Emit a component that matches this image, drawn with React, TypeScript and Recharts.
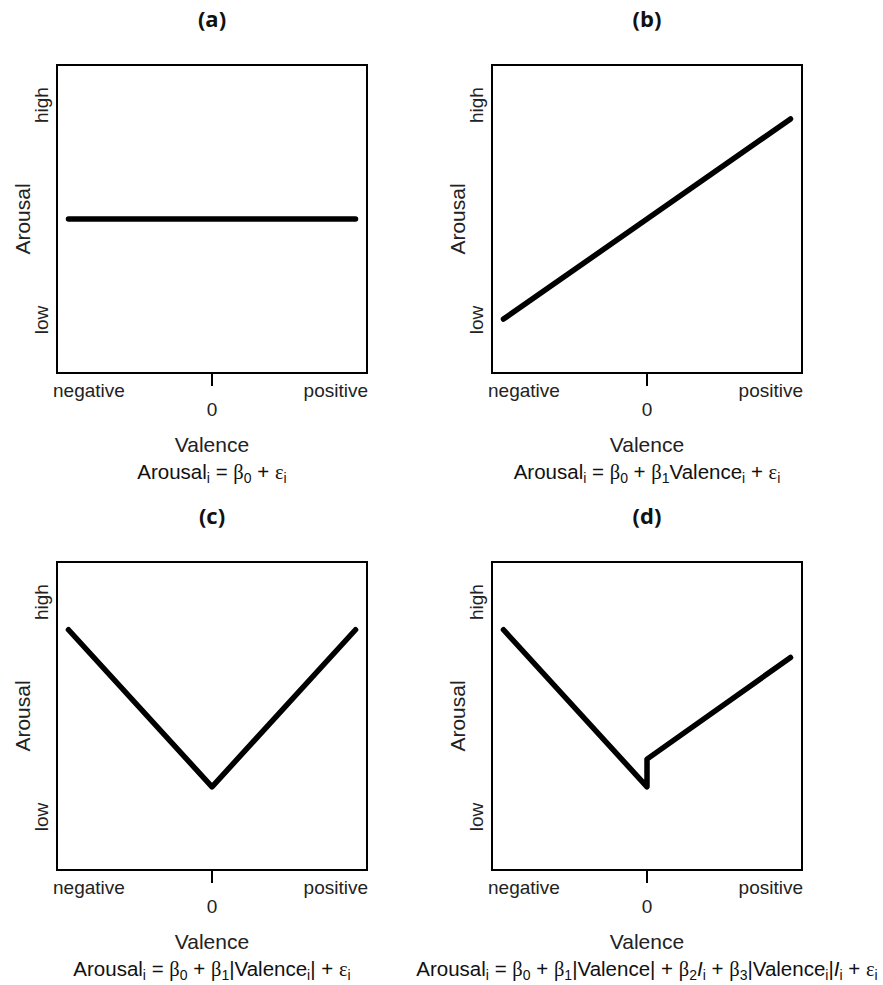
import React from 'react';
import { LineChart, Line, XAxis, YAxis, ReferenceArea, Customized } from 'recharts';

// ---------- data ----------
const X_DOMAIN: [number, number] = [-1.08, 1.08];
const Y_DOMAIN: [number, number] = [0, 100];
const xTickValues = [-1.08, 0, 1.08];
const xTickLabels = ['negative', '0', 'positive'];
const yTickValues = [17.2, 87];
const yTickLabels = ['low', 'high'];

const valence = [-1, 0, 1];
const valenceD = [-1, 0, 0, 1];
const arousalA = [50, 50, 50];
const arousalB = [17.5, 50, 82.5];
const arousalC = [78, 27, 78];
const arousalD = [78, 27, 36, 69];

const panelTitles = ['(a)', '(b)', '(c)', '(d)'];
const xAxisTitle = 'Valence';
const yAxisTitle = 'Arousal';

type Seg = { t: string; sub?: boolean; greek?: boolean; it?: boolean };
const formulaA: Seg[] = [
  { t: 'Arousal' }, { t: 'i', sub: true }, { t: ' = ' }, { t: 'β', greek: true }, { t: '0', sub: true },
  { t: ' + ' }, { t: 'ε', greek: true }, { t: 'i', sub: true },
];
const formulaB: Seg[] = [
  { t: 'Arousal' }, { t: 'i', sub: true }, { t: ' = ' }, { t: 'β', greek: true }, { t: '0', sub: true },
  { t: ' + ' }, { t: 'β', greek: true }, { t: '1', sub: true }, { t: 'Valence' }, { t: 'i', sub: true },
  { t: ' + ' }, { t: 'ε', greek: true }, { t: 'i', sub: true },
];
const formulaC: Seg[] = [
  { t: 'Arousal' }, { t: 'i', sub: true }, { t: ' = ' }, { t: 'β', greek: true }, { t: '0', sub: true },
  { t: ' + ' }, { t: 'β', greek: true }, { t: '1', sub: true }, { t: '|Valence' }, { t: 'i', sub: true },
  { t: '|' }, { t: ' + ' }, { t: 'ε', greek: true }, { t: 'i', sub: true },
];
const formulaD: Seg[] = [
  { t: 'Arousal' }, { t: 'i', sub: true }, { t: ' = ' }, { t: 'β', greek: true }, { t: '0', sub: true },
  { t: ' + ' }, { t: 'β', greek: true }, { t: '1', sub: true }, { t: '|Valence|' },
  { t: ' + ' }, { t: 'β', greek: true }, { t: '2', sub: true }, { t: 'I', it: true }, { t: 'i', sub: true },
  { t: ' + ' }, { t: 'β', greek: true }, { t: '3', sub: true }, { t: '|Valence' }, { t: 'i', sub: true },
  { t: '|' }, { t: 'I', it: true }, { t: 'i', sub: true },
  { t: ' + ' }, { t: 'ε', greek: true }, { t: 'i', sub: true },
];

const toRows = (xs: number[], ys: number[]) => xs.map((v, i) => ({ valence: v, arousal: ys[i] }));

const panels = [
  { title: panelTitles[0], data: toRows(valence, arousalA), formula: formulaA, left: 0, top: 0, width: 440, boxLeft: 57 },
  { title: panelTitles[1], data: toRows(valence, arousalB), formula: formulaB, left: 400, top: 0, width: 483, boxLeft: 92 },
  { title: panelTitles[2], data: toRows(valence, arousalC), formula: formulaC, left: 0, top: 497, width: 440, boxLeft: 57 },
  { title: panelTitles[3], data: toRows(valenceD, arousalD), formula: formulaD, left: 400, top: 497, width: 483, boxLeft: 92 },
];

// ---------- layout ----------
const CHART_H = 488;
const BOX_W = 310;
const BOX_TOP = 65;
const BOX_BOTTOM = 373;
const X_AXIS_H = 30;
const Y_AXIS_W = 30;
const SANS = '"Liberation Sans", Arial, Helvetica, sans-serif';
const GREEK = '"Liberation Serif", "DejaVu Serif", serif';

const XTick = (props: any) => {
  const { x, y, payload } = props;
  const idx = xTickValues.indexOf(payload.value);
  const label = xTickLabels[idx];
  if (idx === 0) {
    return (
      <text x={x - 4} y={y + 24} textAnchor="start" fontSize={19} fontFamily={SANS} fill="#222">{label}</text>
    );
  }
  if (idx === 2) {
    return (
      <text x={x + 1} y={y + 24} textAnchor="end" fontSize={19} fontFamily={SANS} fill="#222">{label}</text>
    );
  }
  return (
    <g>
      <line x1={x} y1={y} x2={x} y2={y + 13} stroke="#000" strokeWidth={2} />
      <text x={x} y={y + 43} textAnchor="middle" fontSize={19} fontFamily={SANS} fill="#222">{label}</text>
    </g>
  );
};

const YTick = (props: any) => {
  const { x, y, payload } = props;
  const idx = yTickValues.indexOf(payload.value);
  const tx = x - 9;
  return (
    <text x={tx} y={y} transform={`rotate(-90 ${tx} ${y})`} textAnchor="middle" fontSize={19} fontFamily={SANS} fill="#222">
      {yTickLabels[idx]}
    </text>
  );
};

const Formula = ({ segs, cx, y }: { segs: Seg[]; cx: number; y: number }) => {
  let shifted = false;
  const children = segs.map((s, i) => {
    let dy = 0;
    if (s.sub && !shifted) { dy = 3.5; shifted = true; }
    else if (!s.sub && shifted) { dy = -3.5; shifted = false; }
    return (
      <tspan
        key={i}
        dy={dy || undefined}
        fontSize={s.sub ? 14 : 20.5}
        fontFamily={s.greek ? GREEK : SANS}
        fontStyle={s.it ? 'italic' : undefined}
      >
        {s.t}
      </tspan>
    );
  });
  return (
    <text x={cx} y={y} textAnchor="middle" fill="#111" style={{ whiteSpace: 'pre' }} xmlSpace="preserve">
      {children}
    </text>
  );
};

const Panel = ({ p }: { p: (typeof panels)[number] }) => {
  const cx = p.boxLeft + BOX_W / 2;
  const midY = (BOX_TOP + BOX_BOTTOM) / 2;
  const axX = p.boxLeft - 27;
  const Overlay = () => (
    <g>
      <text x={cx} y={BOX_TOP - 38} textAnchor="middle" fontSize={22} fontWeight="bold" fontFamily='"Open Sans", sans-serif' fill="#111">
        {p.title}
      </text>
      <text x={axX} y={midY} transform={`rotate(-90 ${axX} ${midY})`} textAnchor="middle" fontSize={21} fontFamily={SANS} fill="#222">
        {yAxisTitle}
      </text>
      <text x={cx} y={BOX_BOTTOM + 79} textAnchor="middle" fontSize={21} fontFamily={SANS} fill="#222">
        {xAxisTitle}
      </text>
      <Formula segs={p.formula} cx={cx} y={BOX_BOTTOM + 106} />
    </g>
  );
  return (
    <div style={{ position: 'absolute', left: p.left, top: p.top }}>
      <LineChart
        width={p.width}
        height={CHART_H}
        data={p.data}
        margin={{
          top: BOX_TOP,
          bottom: CHART_H - BOX_BOTTOM - X_AXIS_H,
          left: p.boxLeft - Y_AXIS_W,
          right: p.width - p.boxLeft - BOX_W,
        }}
      >
        <XAxis
          dataKey="valence"
          type="number"
          domain={X_DOMAIN}
          ticks={xTickValues}
          interval={0}
          height={X_AXIS_H}
          axisLine={false}
          tickLine={false}
          tickSize={0}
          tickMargin={0}
          tick={<XTick />}
          allowDataOverflow
        />
        <YAxis
          type="number"
          domain={Y_DOMAIN}
          ticks={yTickValues}
          interval={0}
          width={Y_AXIS_W}
          axisLine={false}
          tickLine={false}
          tickSize={0}
          tickMargin={0}
          tick={<YTick />}
          allowDataOverflow
        />
        <ReferenceArea
          x1={X_DOMAIN[0]}
          x2={X_DOMAIN[1]}
          y1={Y_DOMAIN[0]}
          y2={Y_DOMAIN[1]}
          fill="none"
          fillOpacity={0}
          stroke="#000"
          strokeWidth={2}
          ifOverflow="visible"
        />
        <Line
          dataKey="arousal"
          type="linear"
          stroke="#000"
          strokeWidth={5.5}
          strokeLinecap="round"
          strokeLinejoin="round"
          dot={false}
          activeDot={false}
          isAnimationActive={false}
        />
        <Customized component={Overlay} />
      </LineChart>
    </div>
  );
}

export default function App() {
  return (
    <div style={{ position: 'absolute', left: 0, top: 0, width: 883, height: 985, overflow: 'hidden', background: '#fff' }}>
      {panels.map((p) => (
        <Panel key={p.title} p={p} />
      ))}
    </div>
  );
}
